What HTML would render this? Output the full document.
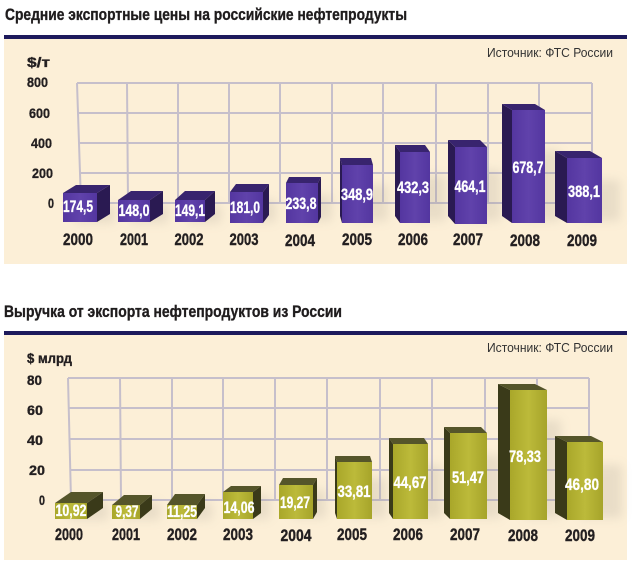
<!DOCTYPE html>
<html><head><meta charset="utf-8"><style>
html,body{margin:0;padding:0;background:#fff;}
svg{display:block;}
text{font-family:"Liberation Sans",Arial,sans-serif;}
.t{font-weight:bold;fill:#1f1c1d;stroke:#1f1c1d;stroke-width:0.35;}
.v{font-weight:bold;fill:#fff;font-size:16.5px;stroke:#fff;stroke-width:0.3;}
.y{font-weight:bold;fill:#231f20;font-size:17px;stroke:#231f20;stroke-width:0.4;}
.a{font-weight:bold;fill:#231f20;font-size:14px;stroke:#231f20;stroke-width:0.35;}
.s{fill:#333;font-size:12.5px;}
.g{stroke:#c6bfcb;stroke-width:2;fill:none;}
</style></head><body>
<svg width="632" height="565" viewBox="0 0 632 565" xmlns="http://www.w3.org/2000/svg">
<defs>
<filter id="bl" x="-50%" y="-50%" width="200%" height="200%"><feGaussianBlur stdDeviation="5"/></filter>
<linearGradient id="pf" x1="0" x2="1" y1="0" y2="0"><stop offset="0" stop-color="#5436a0"/><stop offset="0.5" stop-color="#6042ab"/><stop offset="1" stop-color="#5336a0"/></linearGradient>
<linearGradient id="of" x1="0" x2="1" y1="0" y2="0"><stop offset="0" stop-color="#a9a72a"/><stop offset="0.5" stop-color="#bcba3a"/><stop offset="1" stop-color="#a6a42a"/></linearGradient>
</defs>

<!-- TOP CHART -->
<text class="t" x="5" y="20" font-size="17" textLength="402" lengthAdjust="spacingAndGlyphs">Средние экспортные цены на российские нефтепродукты</text>
<rect x="4" y="35" width="623" height="4" fill="#1d1a5c"/>
<rect x="4" y="39" width="623" height="225" fill="#fcefd7"/>
<text class="s" x="487" y="57" textLength="126" lengthAdjust="spacingAndGlyphs">Источник: ФТС России</text>

<g class="g">
<line x1="77" y1="83" x2="592" y2="83"/>
<line x1="78" y1="113" x2="592" y2="113"/>
<line x1="79" y1="143" x2="592" y2="143"/>
<line x1="80" y1="173" x2="592" y2="173"/>
<line x1="81" y1="203" x2="592" y2="203"/>
<line x1="77" y1="83" x2="81" y2="203"/>
<line x1="127" y1="83" x2="128" y2="203"/>
<line x1="178" y1="83" x2="178" y2="203"/>
<line x1="229" y1="83" x2="229" y2="203"/>
<line x1="280" y1="83" x2="280" y2="203"/>
<line x1="332" y1="83" x2="332" y2="203"/>
<line x1="383" y1="83" x2="383" y2="203"/>
<line x1="436" y1="83" x2="436" y2="203"/>
<line x1="488" y1="83" x2="488" y2="203"/>
<line x1="539" y1="83" x2="539" y2="203"/>
<line x1="592" y1="83" x2="592" y2="203"/>
</g>

<text class="a" x="27" y="67" textLength="23" lengthAdjust="spacingAndGlyphs">$/т</text>
<text class="a" x="27" y="87" textLength="21" lengthAdjust="spacingAndGlyphs">800</text>
<text class="a" x="29" y="118" textLength="21" lengthAdjust="spacingAndGlyphs">600</text>
<text class="a" x="31" y="148" textLength="21" lengthAdjust="spacingAndGlyphs">400</text>
<text class="a" x="32" y="178" textLength="21" lengthAdjust="spacingAndGlyphs">200</text>
<text class="a" x="48" y="208" textLength="6" lengthAdjust="spacingAndGlyphs">0</text>

<!-- shadows top -->
<g fill="#9c9488" opacity="0.2" filter="url(#bl)">
<rect x="75" y="205" width="40" height="18"/>
<rect x="130" y="205" width="38" height="18"/>
<rect x="187" y="205" width="34" height="18"/>
<rect x="242" y="200" width="34" height="22"/>
<rect x="298" y="195" width="34" height="26"/>
<rect x="354" y="185" width="34" height="36"/>
<rect x="412" y="175" width="34" height="46"/>
<rect x="467" y="170" width="34" height="51"/>
<rect x="524" y="150" width="36" height="71"/>
<rect x="580" y="180" width="40" height="41"/>
</g>

<g>
<polygon points="97,193 110,185 110,214 97,222" fill="#2a1a52"/>
<polygon points="63,193 97,193 110,185 76,185" fill="#38246e"/>
<rect x="63" y="193" width="34" height="29" fill="url(#pf)"/>
<polygon points="150,200 163,191 163,214 150,222" fill="#2a1a52"/>
<polygon points="118,200 150,200 163,191 131,191" fill="#38246e"/>
<rect x="118" y="200" width="32" height="22" fill="url(#pf)"/>
<polygon points="205,200 215,191 215,214 205,222" fill="#2a1a52"/>
<polygon points="175,200 205,200 215,191 185,191" fill="#38246e"/>
<rect x="175" y="200" width="30" height="22" fill="url(#pf)"/>
<polygon points="263,192 269,184 269,215 263,223" fill="#2a1a52"/>
<polygon points="230,192 263,192 269,184 236,184" fill="#38246e"/>
<rect x="230" y="192" width="33" height="31" fill="url(#pf)"/>
<polygon points="318,183 321,177 321,217 318,223" fill="#2a1a52"/>
<polygon points="286,183 318,183 321,177 289,177" fill="#38246e"/>
<rect x="286" y="183" width="32" height="40" fill="url(#pf)"/>
<polygon points="342,165 340,158 340,216 342,223" fill="#2a1a52"/>
<polygon points="342,165 373,165 371,158 340,158" fill="#38246e"/>
<rect x="342" y="165" width="31" height="58" fill="url(#pf)"/>
<polygon points="400,152 395,145 395,216 400,223" fill="#2a1a52"/>
<polygon points="400,152 430,152 425,145 395,145" fill="#38246e"/>
<rect x="400" y="152" width="30" height="71" fill="url(#pf)"/>
<polygon points="455,147 448,140 448,216 455,224" fill="#2a1a52"/>
<polygon points="455,147 487,147 480,140 448,140" fill="#38246e"/>
<rect x="455" y="147" width="32" height="77" fill="url(#pf)"/>
<polygon points="512,110 502,104 502,216 512,223" fill="#2a1a52"/>
<polygon points="512,110 545,110 535,104 502,104" fill="#38246e"/>
<rect x="512" y="110" width="33" height="113" fill="url(#pf)"/>
<polygon points="567,158 555,151 555,216 567,223" fill="#2a1a52"/>
<polygon points="567,158 602,158 590,151 555,151" fill="#38246e"/>
<rect x="567" y="158" width="35" height="65" fill="url(#pf)"/>
</g>

<g class="v" text-anchor="middle">
<text x="78" y="212" textLength="30" lengthAdjust="spacingAndGlyphs">174,5</text>
<text x="134" y="216" textLength="31" lengthAdjust="spacingAndGlyphs">148,0</text>
<text x="190" y="216" textLength="30" lengthAdjust="spacingAndGlyphs">149,1</text>
<text x="245" y="213" textLength="30" lengthAdjust="spacingAndGlyphs">181,0</text>
<text x="301" y="209" textLength="31" lengthAdjust="spacingAndGlyphs">233,8</text>
<text x="357" y="200" textLength="32" lengthAdjust="spacingAndGlyphs">348,9</text>
<text x="413" y="193" textLength="32" lengthAdjust="spacingAndGlyphs">432,3</text>
<text x="470" y="192" textLength="31" lengthAdjust="spacingAndGlyphs">464,1</text>
<text x="528" y="173" textLength="31" lengthAdjust="spacingAndGlyphs">678,7</text>
<text x="584" y="197" textLength="32" lengthAdjust="spacingAndGlyphs">388,1</text>
</g>

<g class="y" text-anchor="middle">
<text x="78" y="245" textLength="30" lengthAdjust="spacingAndGlyphs">2000</text>
<text x="134" y="245" textLength="28" lengthAdjust="spacingAndGlyphs">2001</text>
<text x="189" y="245" textLength="29" lengthAdjust="spacingAndGlyphs">2002</text>
<text x="244" y="245" textLength="29" lengthAdjust="spacingAndGlyphs">2003</text>
<text x="300" y="246" textLength="30" lengthAdjust="spacingAndGlyphs">2004</text>
<text x="357" y="245" textLength="30" lengthAdjust="spacingAndGlyphs">2005</text>
<text x="413" y="245" textLength="30" lengthAdjust="spacingAndGlyphs">2006</text>
<text x="468" y="245" textLength="30" lengthAdjust="spacingAndGlyphs">2007</text>
<text x="525" y="246" textLength="30" lengthAdjust="spacingAndGlyphs">2008</text>
<text x="582" y="246" textLength="30" lengthAdjust="spacingAndGlyphs">2009</text>
</g>

<!-- BOTTOM CHART -->
<text class="t" x="4" y="317" font-size="17" textLength="338" lengthAdjust="spacingAndGlyphs">Выручка от экспорта нефтепродуктов из России</text>
<rect x="4" y="331" width="623" height="4" fill="#1d1a5c"/>
<rect x="4" y="335" width="623" height="225" fill="#fcefd7"/>
<text class="s" x="487" y="352" textLength="126" lengthAdjust="spacingAndGlyphs">Источник: ФТС России</text>

<g class="g">
<line x1="68" y1="378" x2="589" y2="378"/>
<line x1="69" y1="408" x2="589" y2="408"/>
<line x1="69" y1="439" x2="589" y2="439"/>
<line x1="70" y1="470" x2="589" y2="470"/>
<line x1="71" y1="500" x2="589" y2="500"/>
<line x1="68" y1="378" x2="71" y2="500"/>
<line x1="120" y1="378" x2="121" y2="500"/>
<line x1="172" y1="378" x2="172" y2="500"/>
<line x1="223" y1="378" x2="223" y2="500"/>
<line x1="275" y1="378" x2="275" y2="500"/>
<line x1="327" y1="378" x2="327" y2="500"/>
<line x1="380" y1="378" x2="380" y2="500"/>
<line x1="432" y1="378" x2="432" y2="500"/>
<line x1="485" y1="378" x2="485" y2="500"/>
<line x1="537" y1="378" x2="537" y2="500"/>
<line x1="589" y1="378" x2="589" y2="500"/>
</g>

<text class="a" x="27" y="363" textLength="45" lengthAdjust="spacingAndGlyphs">$ млрд</text>
<text class="a" x="27" y="385" textLength="15" lengthAdjust="spacingAndGlyphs">80</text>
<text class="a" x="27" y="415" textLength="16" lengthAdjust="spacingAndGlyphs">60</text>
<text class="a" x="27" y="445" textLength="16" lengthAdjust="spacingAndGlyphs">40</text>
<text class="a" x="29" y="475" textLength="16" lengthAdjust="spacingAndGlyphs">20</text>
<text class="a" x="39" y="505" textLength="6" lengthAdjust="spacingAndGlyphs">0</text>

<g fill="#9c9488" opacity="0.2" filter="url(#bl)">
<rect x="68" y="502" width="40" height="18"/>
<rect x="124" y="502" width="36" height="18"/>
<rect x="180" y="502" width="32" height="18"/>
<rect x="236" y="495" width="34" height="24"/>
<rect x="292" y="490" width="34" height="28"/>
<rect x="350" y="478" width="36" height="40"/>
<rect x="406" y="465" width="36" height="53"/>
<rect x="463" y="455" width="38" height="63"/>
<rect x="523" y="420" width="38" height="98"/>
<rect x="580" y="465" width="42" height="53"/>
</g>

<g>
<polygon points="87,503 103,492 103,508 87,519" fill="#3a3a19"/>
<polygon points="55,503 87,503 103,492 71,492" fill="#55552a"/>
<rect x="55" y="503" width="32" height="16" fill="url(#of)"/>
<polygon points="140,505 152,495 152,509 140,519" fill="#3a3a19"/>
<polygon points="112,505 140,505 152,495 124,495" fill="#55552a"/>
<rect x="112" y="505" width="28" height="14" fill="url(#of)"/>
<polygon points="197,505 205,494 205,508 197,519" fill="#3a3a19"/>
<polygon points="167,505 197,505 205,494 175,494" fill="#55552a"/>
<rect x="167" y="505" width="30" height="14" fill="url(#of)"/>
<polygon points="253,492 261,486 261,513 253,519" fill="#3a3a19"/>
<polygon points="223,492 253,492 261,486 231,486" fill="#55552a"/>
<rect x="223" y="492" width="30" height="27" fill="url(#of)"/>
<polygon points="313,485 317,478 317,512 313,519" fill="#3a3a19"/>
<polygon points="279,485 313,485 317,478 283,478" fill="#55552a"/>
<rect x="279" y="485" width="34" height="34" fill="url(#of)"/>
<polygon points="337,462 335,456 335,513 337,519" fill="#3a3a19"/>
<polygon points="337,462 372,462 370,456 335,456" fill="#55552a"/>
<rect x="337" y="462" width="35" height="57" fill="url(#of)"/>
<polygon points="393,444 389,438 389,513 393,519" fill="#3a3a19"/>
<polygon points="393,444 428,444 424,438 389,438" fill="#55552a"/>
<rect x="393" y="444" width="35" height="75" fill="url(#of)"/>
<polygon points="450,433 444,427 444,513 450,519" fill="#3a3a19"/>
<polygon points="450,433 487,433 481,427 444,427" fill="#55552a"/>
<rect x="450" y="433" width="37" height="86" fill="url(#of)"/>
<polygon points="510,390 498,384 498,513 510,520" fill="#3a3a19"/>
<polygon points="510,390 547,390 535,384 498,384" fill="#55552a"/>
<rect x="510" y="390" width="37" height="130" fill="url(#of)"/>
<polygon points="567,442 555,436 555,513 567,520" fill="#3a3a19"/>
<polygon points="567,442 603,442 591,436 555,436" fill="#55552a"/>
<rect x="567" y="442" width="36" height="78" fill="url(#of)"/>
</g>

<g class="v" text-anchor="middle">
<text x="71" y="516" textLength="31" lengthAdjust="spacingAndGlyphs">10,92</text>
<text x="127" y="517" textLength="23" lengthAdjust="spacingAndGlyphs">9,37</text>
<text x="182" y="517" textLength="30" lengthAdjust="spacingAndGlyphs">11,25</text>
<text x="239" y="513" textLength="31" lengthAdjust="spacingAndGlyphs">14,06</text>
<text x="295" y="508" textLength="30" lengthAdjust="spacingAndGlyphs">19,27</text>
<text x="354" y="497" textLength="33" lengthAdjust="spacingAndGlyphs">33,81</text>
<text x="410" y="488" textLength="33" lengthAdjust="spacingAndGlyphs">44,67</text>
<text x="468" y="483" textLength="32" lengthAdjust="spacingAndGlyphs">51,47</text>
<text x="525" y="462" textLength="32" lengthAdjust="spacingAndGlyphs">78,33</text>
<text x="582" y="490" textLength="34" lengthAdjust="spacingAndGlyphs">46,80</text>
</g>

<g class="y" text-anchor="middle">
<text x="69" y="540" textLength="28" lengthAdjust="spacingAndGlyphs">2000</text>
<text x="126" y="540" textLength="28" lengthAdjust="spacingAndGlyphs">2001</text>
<text x="182" y="540" textLength="30" lengthAdjust="spacingAndGlyphs">2002</text>
<text x="238" y="540" textLength="30" lengthAdjust="spacingAndGlyphs">2003</text>
<text x="296" y="541" textLength="31" lengthAdjust="spacingAndGlyphs">2004</text>
<text x="352" y="540" textLength="30" lengthAdjust="spacingAndGlyphs">2005</text>
<text x="408" y="540" textLength="30" lengthAdjust="spacingAndGlyphs">2006</text>
<text x="465" y="540" textLength="30" lengthAdjust="spacingAndGlyphs">2007</text>
<text x="523" y="541" textLength="30" lengthAdjust="spacingAndGlyphs">2008</text>
<text x="580" y="541" textLength="30" lengthAdjust="spacingAndGlyphs">2009</text>
</g>
</svg>
</body></html>
